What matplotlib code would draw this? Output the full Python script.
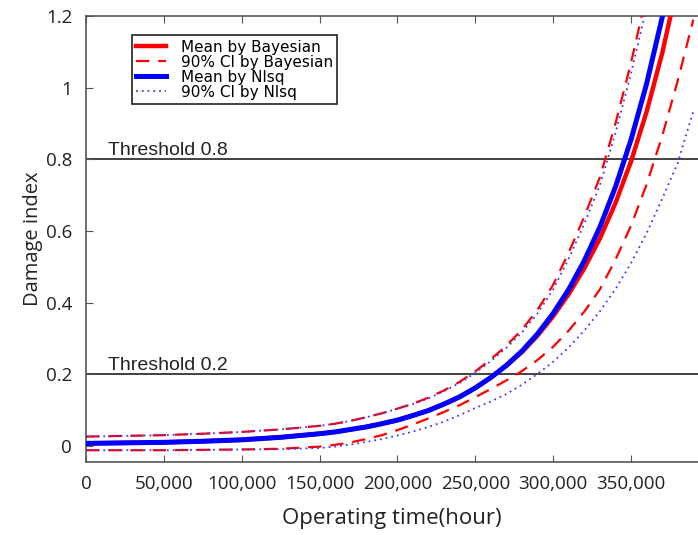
import matplotlib
matplotlib.use("Agg")
import matplotlib.pyplot as plt

plt.rcParams['font.family'] = ['Open Sans', 'DejaVu Sans']

# operating time (hour)
t = [0, 25000, 50000, 75000, 100000, 125000, 150000, 160000, 170000, 180000,
     190000, 200000, 210000, 220000, 230000, 240000, 250000, 260000, 270000,
     280000, 290000, 300000, 310000, 320000, 330000, 340000, 350000, 360000,
     370000, 380000, 390000]

mean_bayes = [0.007, 0.0085, 0.010, 0.013, 0.017, 0.024, 0.034, 0.039, 0.046, 0.053,
              0.062, 0.072, 0.085, 0.099, 0.117, 0.137, 0.162, 0.191, 0.224,
              0.262, 0.308, 0.362, 0.424, 0.496, 0.579, 0.678, 0.794, 0.933,
              1.096, 1.291, 1.52]
ci_bayes_hi = [0.026, 0.028, 0.030, 0.034, 0.039, 0.046, 0.056, 0.062, 0.070, 0.080,
               0.091, 0.104, 0.118, 0.135, 0.155, 0.179, 0.208, 0.242, 0.280,
               0.325, 0.38, 0.45, 0.54, 0.64, 0.75, 0.90, 1.07, 1.26,
               1.48, 1.73, 2.0]
ci_bayes_lo = [-0.012, -0.012, -0.012, -0.011, -0.010, -0.008, -0.002, 0.003, 0.010, 0.019,
               0.030, 0.044, 0.060, 0.077, 0.095, 0.114, 0.136, 0.159, 0.183,
               0.209, 0.240, 0.277, 0.322, 0.375, 0.437, 0.52, 0.615, 0.73,
               0.865, 1.02, 1.19]

mean_nlsq = [0.007, 0.0085, 0.010, 0.013, 0.017, 0.024, 0.034, 0.039, 0.046, 0.053,
             0.062, 0.072, 0.085, 0.099, 0.117, 0.137, 0.162, 0.191, 0.225,
             0.265, 0.313, 0.370, 0.437, 0.517, 0.611, 0.723, 0.855, 1.011,
             1.196, 1.416, 1.67]
ci_nlsq_hi = [0.026, 0.028, 0.030, 0.034, 0.039, 0.046, 0.056, 0.062, 0.070, 0.080,
              0.091, 0.104, 0.117, 0.133, 0.153, 0.176, 0.204, 0.237, 0.274,
              0.317, 0.37, 0.437, 0.523, 0.62, 0.728, 0.873, 1.04, 1.225,
              1.44, 1.68, 1.95]
ci_nlsq_lo = [-0.012, -0.012, -0.012, -0.011, -0.010, -0.009, -0.006, -0.002, 0.004, 0.011,
              0.019, 0.029, 0.040, 0.053, 0.068, 0.086, 0.106, 0.124, 0.145,
              0.171, 0.201, 0.235, 0.275, 0.322, 0.376, 0.438, 0.51, 0.594,
              0.69, 0.79, 0.935]

thresholds = [0.8, 0.2]
xticks = [0, 50000, 100000, 150000, 200000, 250000, 300000, 350000]
yticks = [0, 0.2, 0.4, 0.6, 0.8, 1.0, 1.2]
ytick_labels = ["0", "0.2", "0.4", "0.6", "0.8", "1", "1.2"]

fig = plt.figure(figsize=(6.98, 5.35), dpi=100)
ax = fig.add_axes([0.1232, 0.1364, 0.8768, 0.8336])

for th in thresholds:
    ax.axhline(th, color="#333333", lw=1.3, zorder=1)
    ax.text(14000, th + 0.013, "Threshold %g" % th, fontsize=14,
            family="Liberation Sans", color="#222222", va="baseline", ha="left")

ax.plot(t, mean_bayes, color="red", lw=3.2, label="Mean by Bayesian", zorder=3)
ax.plot(t, ci_bayes_hi, color="red", lw=1.6, ls=(0, (6, 4)), label="90% CI by Bayesian", zorder=3)
ax.plot(t, ci_bayes_lo, color="red", lw=1.6, ls=(0, (6, 4)), zorder=3)
ax.plot(t, mean_nlsq, color="blue", lw=3.6, label="Mean by Nlsq", zorder=4)
ax.plot(t, ci_nlsq_hi, color="#3a3aff", lw=1.3, ls=(0, (1, 2.2)), label="90% CI by Nlsq", zorder=4)
ax.plot(t, ci_nlsq_lo, color="#3a3aff", lw=1.3, ls=(0, (1, 2.2)), zorder=4)

ax.set_xlim(0, 393000)
ax.set_ylim(-0.045, 1.2)
ax.set_xticks(xticks)
ax.set_xticklabels(["{:,}".format(v) for v in xticks])
ax.set_yticks(yticks)
ax.set_yticklabels(ytick_labels)
ax.tick_params(direction="in", top=True, right=False, length=5, color="#555555",
               labelsize=13.5, labelcolor="#222222")
ax.tick_params(axis="x", pad=9)
ax.tick_params(axis="y", pad=10)
ax.spines["right"].set_visible(False)
for s in ["left", "bottom", "top"]:
    ax.spines[s].set_color("#555555")
    ax.spines[s].set_linewidth(1.2)

ax.set_xlabel("Operating time(hour)", fontsize=16, color="#222222", labelpad=11)
ax.set_ylabel("Damage index", fontsize=14.5, color="#222222", labelpad=2)

leg = ax.legend(loc="upper left", bbox_to_anchor=(0.075, 0.957), borderaxespad=0,
                prop={"family": "DejaVu Sans", "size": 11},
                labelspacing=0.0, handlelength=1.9, handletextpad=1.0,
                borderpad=0.3, fancybox=False, framealpha=1)
leg.get_frame().set_edgecolor("#222222")
leg.get_frame().set_linewidth(1.2)

fig.savefig("out.png", dpi=100)
